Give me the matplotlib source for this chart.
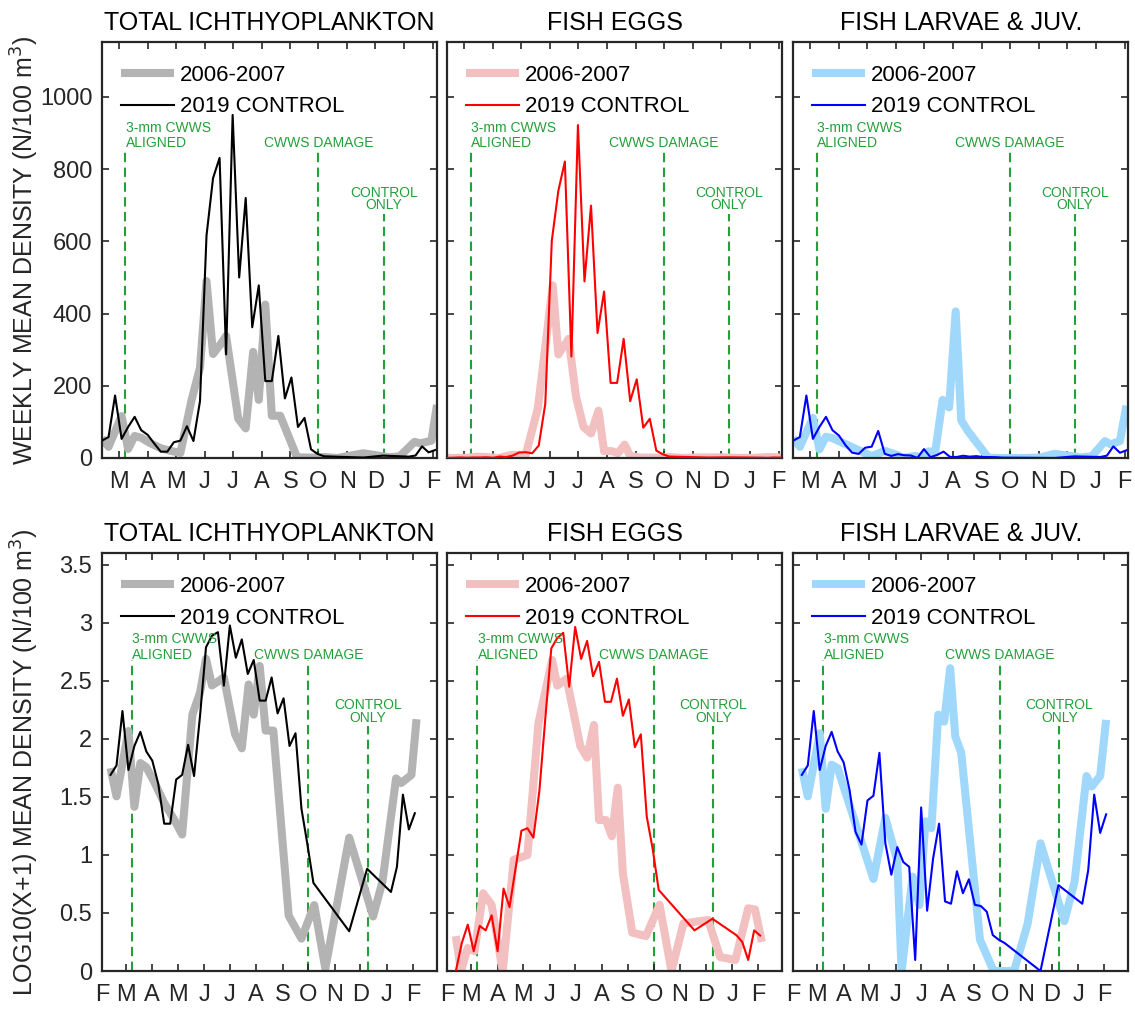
import numpy as np
import matplotlib
matplotlib.use("Agg")
import matplotlib.pyplot as plt
from datetime import date

plt.rcParams['font.family'] = ['Liberation Sans', 'DejaVu Sans']

# Sampling days, counted from 1 Feb 2019 (the 2006-2007 survey is laid on the same calendar)
days_2019 = [10, 17, 24, 31, 38, 45, 52, 59, 66, 73, 80, 87, 94, 101, 108, 115, 122,
             129, 136, 143, 150, 157, 164, 171, 178, 185, 192, 199, 206, 213, 220,
             227, 234, 241, 248, 290, 311, 339, 346, 353, 360, 367]

# Weekly mean density (N/100 m^3), 2019 control
total_2019 = [48, 58, 173, 53, 86, 114, 77, 64, 40, 17.6, 17.6, 43.7, 48, 88, 46.9,
              157, 616, 775, 831, 287, 950, 500, 720, 362, 478, 213, 213, 338, 165,
              223, 86, 111, 24, 11.3, 4.75, 1.2, 6.6, 3.8, 6.9, 32.1, 15.6, 21.9]
eggs_2019 = [0, 0.74, 1.51, 0.48, 1.45, 1.24, 2.02, 0.48, 4.13, 2.55, 6.6, 15.2, 16.0,
             13.1, 34.5, 150, 602, 740, 821, 281, 922, 489, 699, 346, 461, 208, 208,
             330, 157.5, 218, 84, 108.6, 20.4, 10.2, 4.0, 1.24, 1.82, 1.04, 0.78,
             0.245, 1.24, 1.02]
larvae_2019 = [48, 58, 173, 53, 86, 114, 77, 62, 35.3, 14.8, 11.3, 28.5, 31.4, 74.9,
               11.6, 5.76, 10.7, 7.7, 6.9, 0.245, 24.7, 2.31, 8.33, 17.6, 2.98, 2.8,
               6.24, 3.68, 5.17, 2.72, 2.63, 2.24, 1.04, 0.86, 0.74, 0, 4.5, 2.8, 6.4,
               32.1, 14.5, 21.4]

# 2006-2007 survey
days_total_0607 = [10, 17, 31, 38, 45, 52, 61, 73, 85, 94, 106, 115, 122, 129, 137, 143,
                   156, 164, 172, 178, 185, 192, 201, 219, 234, 249, 262, 290, 318, 329,
                   345, 351, 363, 369]
total_0607 = [55, 31, 116, 25, 61, 56, 42, 27, 19, 14, 161, 250, 490, 288, 315, 338,
              109, 82, 294, 161, 425, 117, 117, 2.0, 0.9, 2.7, 0.05, 13.1, 1.95, 4.9,
              44.7, 40.7, 48, 147]
days_eggs_0607 = [10, 16, 24, 32, 42, 52, 65, 78, 94, 107, 123, 129, 140, 148, 156, 164,
                  172, 178, 186, 193, 200, 206, 217, 233, 249, 263, 277, 306, 320, 338,
                  353, 361, 369]
eggs_0607 = [1.0, 0, 0.58, 0.48, 3.68, 2.72, 0, 8.1, 9.0, 137, 478, 287, 330, 169, 86,
             68, 131, 19, 19, 13.5, 37, 5.9, 1.14, 1.0, 2.72, 0, 1.57, 1.75, 0.32,
             0.245, 2.47, 2.39, 0.78]
days_larvae_0607 = [10, 17, 31, 38, 45, 52, 94, 108, 122, 127, 140, 148, 155, 162, 170,
                    177, 184, 190, 197, 219, 235, 259, 275, 290, 318, 330, 344, 350,
                    360, 367]
larvae_0607 = [55, 31, 111, 24, 59, 55, 5.2, 19.9, 7.9, 0, 5.5, 2.7, 18.5, 16, 161, 140,
               406, 104, 75, 0.86, 0, 0, 1.57, 11.6, 1.69, 4.9, 46.9, 37.9, 46.9, 145]

panel_titles = ['TOTAL ICHTHYOPLANKTON', 'FISH EGGS', 'FISH LARVAE & JUV.']
legend_labels = ['2006-2007', '2019 CONTROL']
month_labels = ['F', 'M', 'A', 'M', 'J', 'J', 'A', 'S', 'O', 'N', 'D', 'J', 'F']

# Screen events (day offsets from 1 Feb 2019)
event_days = [35, 242, 312]

series = [
    (days_total_0607, total_0607, total_2019, '#b3b3b3', '#000000'),
    (days_eggs_0607, eggs_0607, eggs_2019, '#f2c0c0', '#ff0000'),
    (days_larvae_0607, larvae_0607, larvae_2019, '#a0d8fb', '#0000ff'),
]

GREEN = '#24a03a'
FRAME = '#262626'

start = date(2019, 2, 1)
month_pos = [(date(2019, m, 1) - start).days for m in range(2, 13)] + \
            [(date(2020, 1, 1) - start).days, (date(2020, 2, 1) - start).days]

fig = plt.figure(figsize=(11.35, 10.13), dpi=100)
W, H = 1135, 1013
lefts = [102, 447.3, 793.3]
width = 335
rows = [(42, 458), (553.3, 971)]

for r, (ytop, ybot) in enumerate(rows):
    log = (r == 1)
    for c in range(3):
        ax = fig.add_axes([lefts[c] / W, 1 - ybot / H, width / W, (ybot - ytop) / H])
        d06, v06, v19, c06, c19 = series[c]
        tf = (lambda a: np.log10(np.asarray(a, float) + 1)) if log else \
            (lambda a: np.asarray(a, float))
        ax.plot(d06, tf(v06), color=c06, lw=5.8, solid_joinstyle='round',
                solid_capstyle='butt', label=legend_labels[0], zorder=2)
        ax.plot(days_2019, tf(v19), color=c19, lw=1.5, label=legend_labels[1], zorder=3)

        if log:
            ax.set_xlim(0, 393)
            ax.set_ylim(0, 3.6)
            ax.set_yticks(np.arange(0, 3.51, 0.5))
            ax.set_yticklabels(['0', '0.5', '1', '1.5', '2', '2.5', '3', '3.5'])
            ax.set_xticks(month_pos)
            ax.set_xticklabels(month_labels)
            line_tops = [2.68, 2.68, 2.11]
            txt = [[('3-mm CWWS', 2.83), ('ALIGNED', 2.69)],
                   [('CWWS DAMAGE', 2.69)],
                   [('CONTROL', 2.26), ('ONLY', 2.15)]]
        else:
            ax.set_xlim(10, 369)
            ax.set_ylim(0, 1152)
            ax.set_yticks(np.arange(0, 1001, 200))
            ax.set_xticks(month_pos[1:])
            ax.set_xticklabels(month_labels[1:])
            line_tops = [855, 855, 677]
            txt = [[('3-mm CWWS', 903), ('ALIGNED', 862)],
                   [('CWWS DAMAGE', 862)],
                   [('CONTROL', 724), ('ONLY', 689)]]

        for k, xd in enumerate(event_days):
            ax.plot([xd, xd], [0, line_tops[k]], color=GREEN, lw=1.5,
                    linestyle=(0, (4.5, 2.6)), zorder=1)
            for s, yv in txt[k]:
                ax.text(xd + (0.5 if k == 0 else 0), yv, s, color=GREEN, fontsize=10,
                        ha='left' if k == 0 else 'center', va='baseline', zorder=4)

        if c != 0:
            ax.set_yticklabels([])
        else:
            ax.set_ylabel('LOG10(X+1) MEAN DENSITY (N/100 m$^3$)' if log
                          else 'WEEKLY MEAN DENSITY (N/100 m$^3$)',
                          fontsize=18, color=FRAME)
            ax.yaxis.set_label_coords(-0.182, 0.5)

        ax.set_title(panel_titles[c], fontsize=18, pad=8.5, color='#000000')
        ax.tick_params(axis='both', direction='in', length=5, width=1.2, top=True,
                       right=True, labelsize=17, colors=FRAME)
        ax.tick_params(axis='x', pad=9.5)
        ax.tick_params(axis='y', pad=7)
        for sp in ax.spines.values():
            sp.set_linewidth(1.6)
            sp.set_color(FRAME)

        leg = ax.legend(loc='upper left', bbox_to_anchor=(0.056, 0.945),
                        frameon=False, fontsize=16, handlelength=2.4,
                        handletextpad=0.25, labelspacing=0.47, borderpad=0,
                        borderaxespad=0)

fig.savefig('out.png', dpi=100)
